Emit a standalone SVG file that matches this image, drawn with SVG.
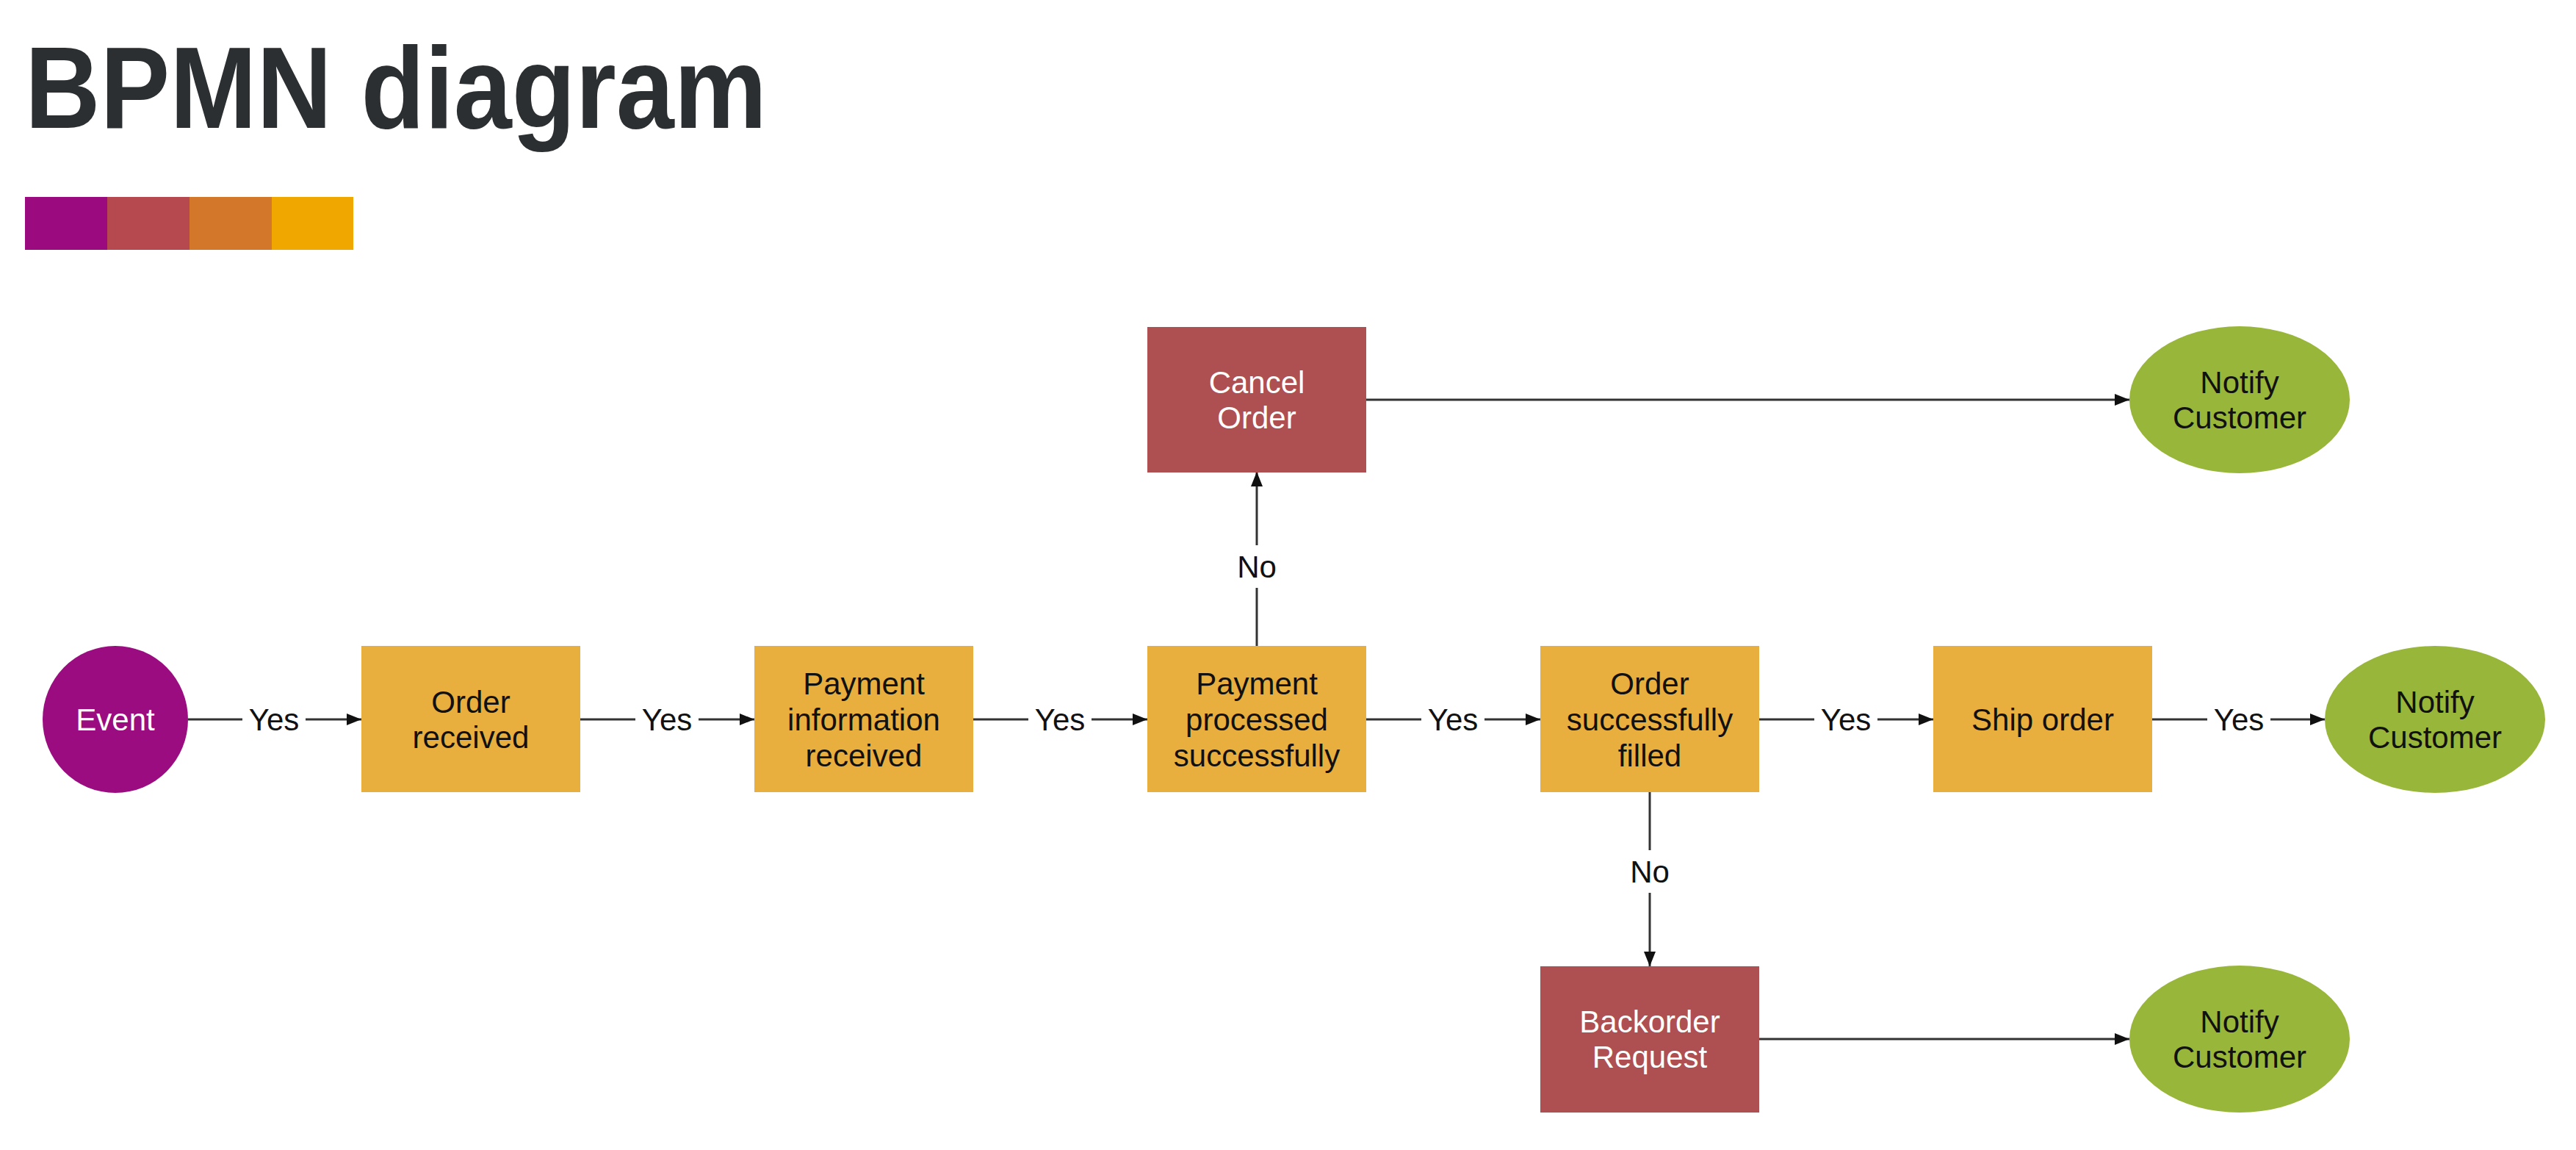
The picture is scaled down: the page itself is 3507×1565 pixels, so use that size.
<svg xmlns="http://www.w3.org/2000/svg" width="3507" height="1565" viewBox="0 0 3507 1565">
<style>
  .title{font-family:"Liberation Sans",Arial,sans-serif;font-weight:bold;font-size:158px;fill:#2b2f31}
  .t{font-family:"Liberation Sans",Arial,sans-serif;font-size:42px;text-anchor:middle}
  .dark{fill:#111}
  .light{fill:#fff}
  .task{fill:#E8AE3E}
  .red{fill:#AE4F52}
  .green{fill:#98B63A}
  .event{fill:#9A0C80}
  .conn{stroke:#333;stroke-width:3;fill:none}
  .lbl{font-family:"Liberation Sans",Arial,sans-serif;font-size:42px;text-anchor:middle;fill:#111}
</style>
<defs>
  <marker id="arr" markerUnits="userSpaceOnUse" markerWidth="20" markerHeight="16" refX="20" refY="8" orient="auto">
    <path d="M0,0 L20,8 L0,16 z" fill="#111"/>
  </marker>
</defs>
<rect width="3507" height="1565" fill="#fff"/>
<text class="title" x="34" y="174" textLength="1010" lengthAdjust="spacingAndGlyphs">BPMN diagram</text>
<g id="colorbar">
  <rect x="34" y="268" width="112" height="72" fill="#9B0A7F"/>
  <rect x="146" y="268" width="112" height="72" fill="#B5494F"/>
  <rect x="258" y="268" width="112" height="72" fill="#D3782B"/>
  <rect x="370" y="268" width="111" height="72" fill="#F0A800"/>
</g>
<g id="connectors">
  <line class="conn" x1="256" y1="979" x2="330" y2="979"/>
  <line class="conn" x1="416" y1="979" x2="492" y2="979" marker-end="url(#arr)"/>
  <text class="lbl" x="373" y="994">Yes</text>
  <line class="conn" x1="790" y1="979" x2="865" y2="979"/>
  <line class="conn" x1="951" y1="979" x2="1027" y2="979" marker-end="url(#arr)"/>
  <text class="lbl" x="908" y="994">Yes</text>
  <line class="conn" x1="1325" y1="979" x2="1400" y2="979"/>
  <line class="conn" x1="1486" y1="979" x2="1562" y2="979" marker-end="url(#arr)"/>
  <text class="lbl" x="1443" y="994">Yes</text>
  <line class="conn" x1="1860" y1="979" x2="1935" y2="979"/>
  <line class="conn" x1="2021" y1="979" x2="2097" y2="979" marker-end="url(#arr)"/>
  <text class="lbl" x="1978" y="994">Yes</text>
  <line class="conn" x1="2395" y1="979" x2="2470" y2="979"/>
  <line class="conn" x1="2556" y1="979" x2="2632" y2="979" marker-end="url(#arr)"/>
  <text class="lbl" x="2513" y="994">Yes</text>
  <line class="conn" x1="2930" y1="979" x2="3005" y2="979"/>
  <line class="conn" x1="3091" y1="979" x2="3165" y2="979" marker-end="url(#arr)"/>
  <text class="lbl" x="3048" y="994">Yes</text>
  <line class="conn" x1="1711" y1="879" x2="1711" y2="800"/>
  <line class="conn" x1="1711" y1="742" x2="1711" y2="642" marker-end="url(#arr)"/>
  <text class="lbl" x="1711" y="786">No</text>
  <line class="conn" x1="1860" y1="544" x2="2899" y2="544" marker-end="url(#arr)"/>
  <line class="conn" x1="2246" y1="1078" x2="2246" y2="1157"/>
  <line class="conn" x1="2246" y1="1215" x2="2246" y2="1315" marker-end="url(#arr)"/>
  <text class="lbl" x="2246" y="1201">No</text>
  <line class="conn" x1="2395" y1="1414" x2="2899" y2="1414" marker-end="url(#arr)"/>
</g>
<g id="event">
  <ellipse class="event" cx="157" cy="979" rx="99" ry="100"/>
  <text class="t light" x="157" y="994">Event</text>
</g>
<g id="order-received">
  <rect class="task" x="492" y="879" width="298" height="199"/>
  <text class="t dark" x="641" y="970">Order</text>
  <text class="t dark" x="641" y="1018">received</text>
</g>
<g id="payment-info">
  <rect class="task" x="1027" y="879" width="298" height="199"/>
  <text class="t dark" x="1176" y="945">Payment</text>
  <text class="t dark" x="1176" y="994">information</text>
  <text class="t dark" x="1176" y="1043">received</text>
</g>
<g id="payment-processed">
  <rect class="task" x="1562" y="879" width="298" height="199"/>
  <text class="t dark" x="1711" y="945">Payment</text>
  <text class="t dark" x="1711" y="994">processed</text>
  <text class="t dark" x="1711" y="1043">successfully</text>
</g>
<g id="order-filled">
  <rect class="task" x="2097" y="879" width="298" height="199"/>
  <text class="t dark" x="2246" y="945">Order</text>
  <text class="t dark" x="2246" y="994">successfully</text>
  <text class="t dark" x="2246" y="1043">filled</text>
</g>
<g id="ship-order">
  <rect class="task" x="2632" y="879" width="298" height="199"/>
  <text class="t dark" x="2781" y="994">Ship order</text>
</g>
<g id="notify-main">
  <ellipse class="green" cx="3315" cy="979" rx="150" ry="100"/>
  <text class="t dark" x="3315" y="970">Notify</text>
  <text class="t dark" x="3315" y="1018">Customer</text>
</g>
<g id="cancel-order">
  <rect class="red" x="1562" y="445" width="298" height="198"/>
  <text class="t light" x="1711" y="535">Cancel</text>
  <text class="t light" x="1711" y="583">Order</text>
</g>
<g id="notify-cancel">
  <ellipse class="green" cx="3049" cy="544" rx="150" ry="100"/>
  <text class="t dark" x="3049" y="535">Notify</text>
  <text class="t dark" x="3049" y="583">Customer</text>
</g>
<g id="backorder">
  <rect class="red" x="2097" y="1315" width="298" height="199"/>
  <text class="t light" x="2246" y="1405">Backorder</text>
  <text class="t light" x="2246" y="1453">Request</text>
</g>
<g id="notify-backorder">
  <ellipse class="green" cx="3049" cy="1414" rx="150" ry="100"/>
  <text class="t dark" x="3049" y="1405">Notify</text>
  <text class="t dark" x="3049" y="1453">Customer</text>
</g>
</svg>
